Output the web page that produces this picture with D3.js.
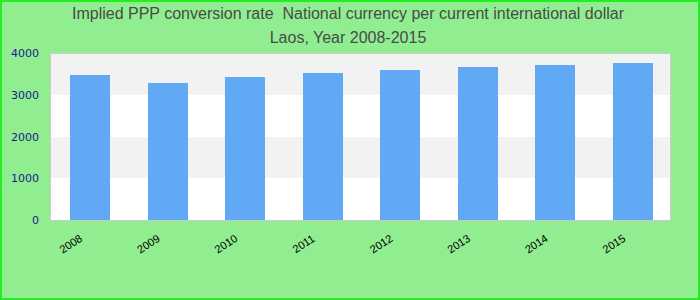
<!DOCTYPE html>
<html><head><meta charset="utf-8">
<script src="https://cdn.jsdelivr.net/npm/d3@7"></script>
<style>body{margin:0;padding:0;overflow:hidden}svg{display:block}</style>
</head><body>
<script>
const categories = ["2008","2009","2010","2011","2012","2013","2014","2015"];
const values = [3480, 3288, 3432, 3528, 3600, 3672, 3720, 3768];
const yTicks = [0, 1000, 2000, 3000, 4000];
const titleLines = ["Implied PPP conversion rate  National currency per current international dollar", "Laos, Year 2008-2015"];

const W = 700, H = 300;
const m = {left: 50, right: 30, top: 53.3, bottom: 80};
const svg = d3.select("body").append("svg").attr("width", W).attr("height", H);

svg.append("rect").attr("x", 1).attr("y", 1).attr("width", W - 2).attr("height", H - 2)
  .attr("fill", "#90ee90").attr("stroke", "#22ee22").attr("stroke-width", 2);

const x = d3.scaleBand().domain(categories).range([m.left + 1.2, W - m.right + 1.8]).paddingInner(0.4843).paddingOuter(0.242);
const y = d3.scaleLinear().domain([0, 4000]).range([H - m.bottom, m.top]);

// background bands
const bands = d3.pairs(yTicks);
svg.append("g").attr("shape-rendering", "crispEdges").selectAll("rect").data(bands).join("rect")
  .attr("x", m.left).attr("width", W - m.right - m.left)
  .attr("y", d => y(d[1])).attr("height", d => y(d[0]) - y(d[1]))
  .attr("fill", (d, i) => i % 2 === 0 ? "#ffffff" : "#f2f2f2");

svg.append("g").attr("shape-rendering", "crispEdges").selectAll("rect").data(values).join("rect")
  .attr("x", (d, i) => x(categories[i])).attr("width", x.bandwidth())
  .attr("y", d => y(d)).attr("height", d => y(0) - y(d))
  .attr("fill", "#61a9f5");

svg.append("rect").attr("x", m.left).attr("y", m.top)
  .attr("width", W - m.right - m.left).attr("height", y(0) - m.top)
  .attr("fill", "none").attr("stroke", "#cccccc").attr("stroke-width", 1)
  .attr("shape-rendering", "crispEdges");

// y axis
const ya = svg.append("g").attr("transform", `translate(${m.left},0)`)
  .call(d3.axisLeft(y).tickValues(yTicks).tickSize(0).tickPadding(11).tickFormat(d3.format("d")));
ya.select(".domain").remove();
ya.selectAll("text").attr("fill", "#1a1a8c").style("font-family", "DejaVu Sans").style("font-size", "11px");

// x axis
const xa = svg.append("g").attr("transform", `translate(0,${y(0)})`)
  .call(d3.axisBottom(x).tickSize(0).tickFormat(d => d));
xa.select(".domain").remove();
xa.selectAll("text")
  .attr("text-anchor", "middle")
  .attr("dy", null).attr("y", null)
  .attr("transform", "translate(-17,27) rotate(-33)")
  .attr("fill", "#000").style("font-family", "Liberation Sans, Arial").style("font-size", "11px");

svg.append("g").selectAll("text").data(titleLines).join("text")
  .attr("x", W / 2 - 2).attr("y", (d, i) => 19 + i * 23.5)
  .attr("text-anchor", "middle")
  .style("white-space", "pre")
  .attr("fill", "#4a4a4a").style("font-family", "Liberation Sans, Arial").style("font-size", "16px")
  .text(d => d);
</script>
</body></html>
